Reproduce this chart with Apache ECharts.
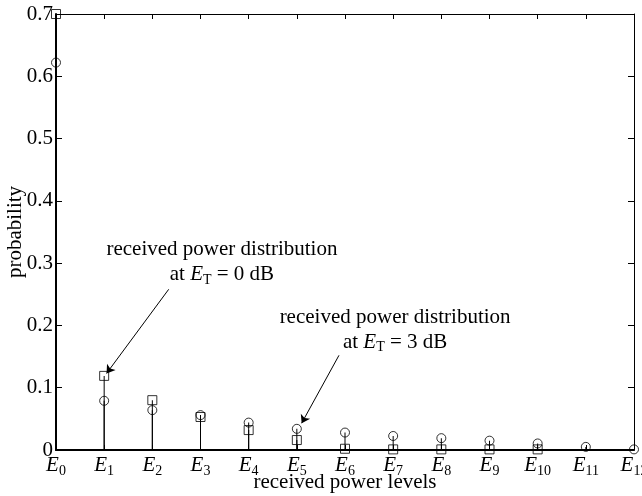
<!DOCTYPE html>
<html>
<head>
<meta charset="utf-8">
<script src="https://cdn.jsdelivr.net/npm/echarts@6/dist/echarts.min.js"></script>
<style>html,body{margin:0;padding:0;background:#fff}#c{width:642px;height:496px}</style>
</head>
<body>
<div id="c"></div>
<script>
// ---- data ----
const levelSubscripts = ['0','1','2','3','4','5','6','7','8','9','10','11','12'];
const yTickLabels = ['0','0.1','0.2','0.3','0.4','0.5','0.6','0.7'];
// received power distribution at E_T = 0 dB (squares)
const dist0dB = [0.700, 0.119, 0.080, 0.053, 0.032, 0.016, 0.002, 0.001, 0.001, 0.001, 0.001];
// received power distribution at E_T = 3 dB (circles)
const dist3dB = [0.622, 0.079, 0.064, 0.056, 0.044, 0.034, 0.028, 0.0225, 0.019, 0.015, 0.0105, 0.005, 0.001];
// annotations (data coordinates)
const note0Text = [3.445, 0.302];
const note0Arrow = [[2.34, 0.258], [1.05, 0.123]];
const note3Text = [7.04, 0.193];
const note3Arrow = [[5.875, 0.152], [5.10, 0.043]];

const FONT = 'Liberation Serif';
const pts = arr => arr.map((v, i) => [i, v]);

const noteRich = {
  t: {fontFamily: FONT, fontSize: 21, color: '#000', lineHeight: 25},
  e: {fontFamily: FONT, fontSize: 21, fontStyle: 'italic', color: '#000', lineHeight: 25},
  s: {fontFamily: FONT, fontSize: 14, color: '#000', padding: [11, 0, 0, 0]}
};
function noteLabel(db) {
  return '{t|received power distribution}\n{t|at }{e|E}{s|T}{t| = ' + db + ' dB}';
}

const chart = echarts.init(document.getElementById('c'), null, {renderer: 'canvas'});
chart.setOption({
  animation: false,
  backgroundColor: '#fff',
  grid: {left: 56, right: 8, top: 14, bottom: 46, containLabel: false, outerBoundsMode: 'none'},
  xAxis: [{
    type: 'value', min: 0, max: 12, interval: 1, position: 'bottom',
    name: 'received power levels', nameLocation: 'middle', nameGap: 22, nameMoveOverlap: false,
    nameTextStyle: {fontFamily: FONT, fontSize: 21, color: '#000'},
    axisLine: {show: true, onZero: false, lineStyle: {color: '#000', width: 2}},
    axisTick: {show: true, inside: true, length: 5, lineStyle: {color: '#000'}},
    splitLine: {show: false},
    axisLabel: {
      margin: 2,
      formatter: v => '{e|E}{s|' + levelSubscripts[v] + '}',
      rich: {
        e: {fontFamily: FONT, fontSize: 21, fontStyle: 'italic', color: '#000'},
        s: {fontFamily: FONT, fontSize: 14, color: '#000', padding: [12, 0, 0, 0]}
      }
    }
  }, {
    type: 'value', min: 0, max: 12, interval: 1, position: 'top',
    axisLine: {show: true, onZero: false, lineStyle: {color: '#000', width: 1}},
    axisTick: {show: true, inside: true, length: 5, lineStyle: {color: '#000'}},
    axisLabel: {show: false}, splitLine: {show: false}
  }],
  yAxis: [{
    type: 'value', min: 0, max: 0.7, interval: 0.1, position: 'left',
    name: 'probability', nameLocation: 'middle', nameGap: 30, nameMoveOverlap: false,
    nameTextStyle: {fontFamily: FONT, fontSize: 21, color: '#000'},
    axisLine: {show: true, onZero: false, lineStyle: {color: '#000', width: 2}},
    axisTick: {show: true, inside: true, length: 6, lineStyle: {color: '#000'}},
    splitLine: {show: false},
    axisLabel: {
      margin: 3, fontFamily: FONT, fontSize: 21, color: '#000',
      formatter: v => yTickLabels[Math.round(v * 10)]
    }
  }, {
    type: 'value', min: 0, max: 0.7, interval: 0.1, position: 'right',
    axisLine: {show: true, onZero: false, lineStyle: {color: '#000', width: 1}},
    axisTick: {show: true, inside: true, length: 6, lineStyle: {color: '#000'}},
    axisLabel: {show: false}, splitLine: {show: false}
  }],
  series: [
    {
      name: 'stems 0 dB', type: 'bar', data: pts(dist0dB), barWidth: 1, barGap: '-100%',
      itemStyle: {color: '#000'}, clip: false
    },
    {
      name: 'stems 3 dB', type: 'bar', data: pts(dist3dB), barWidth: 1, barGap: '-100%',
      itemStyle: {color: '#000'}, clip: false
    },
    {
      name: 'E_T = 0 dB', type: 'scatter', data: pts(dist0dB), symbol: 'rect', symbolSize: 9,
      itemStyle: {color: 'rgba(0,0,0,0)', borderColor: '#000', borderWidth: 1}, clip: false,
      markLine: {
        silent: true, symbol: ['none', 'arrow'], symbolSize: 8,
        lineStyle: {color: '#000', width: 1, type: 'solid'}, label: {show: false},
        data: [[{coord: note0Arrow[0]}, {coord: note0Arrow[1]}]]
      },
      markPoint: {
        silent: true, symbol: 'circle', symbolSize: 0,
        label: {show: true, position: 'inside', align: 'center', verticalAlign: 'middle', formatter: noteLabel(0), rich: noteRich},
        data: [{coord: note0Text}]
      }
    },
    {
      name: 'E_T = 3 dB', type: 'scatter', data: pts(dist3dB), symbol: 'circle', symbolSize: 9,
      itemStyle: {color: 'rgba(0,0,0,0)', borderColor: '#000', borderWidth: 1}, clip: false,
      markLine: {
        silent: true, symbol: ['none', 'arrow'], symbolSize: 8,
        lineStyle: {color: '#000', width: 1, type: 'solid'}, label: {show: false},
        data: [[{coord: note3Arrow[0]}, {coord: note3Arrow[1]}]]
      },
      markPoint: {
        silent: true, symbol: 'circle', symbolSize: 0,
        label: {show: true, position: 'inside', align: 'center', verticalAlign: 'middle', formatter: noteLabel(3), rich: noteRich},
        data: [{coord: note3Text}]
      }
    }
  ]
});
</script>
</body>
</html>
